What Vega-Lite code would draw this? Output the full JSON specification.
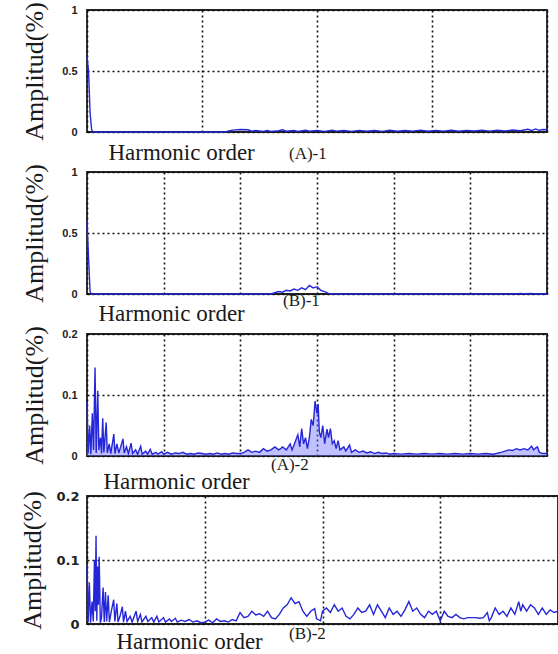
{
  "$schema": "https://vega.github.io/schema/vega-lite/v6.json",
  "padding": {"left": 19, "top": 0, "right": 0, "bottom": 0},
  "background": "white",
  "spacing": 40,
  "bounds": "flush",
  "config": {
    "font": "Liberation Serif, Times New Roman, DejaVu Serif, serif",
    "view": {"stroke": "#222222", "strokeWidth": 1.8},
    "axis": {"titleFont": "Liberation Serif, Times New Roman, DejaVu Serif, serif", "titleFontWeight": "normal"},
    "axisY": {"ticks": false, "domain": false, "labelFont": "Liberation Sans", "labelFontWeight": "bold", "labelFontSize": 11, "labelColor": "#222222", "labelPadding": 10, "titleFontSize": 26, "titleColor": "#1a1a1a", "titlePadding": 14, "gridColor": "#111111", "gridDash": [2, 3], "gridWidth": 1.6, "gridOpacity": 1},
    "axisX": {"ticks": false, "domain": false, "labels": false, "titleFontSize": 23, "titleColor": "#1a1a1a", "titleAnchor": "start", "gridColor": "#111111", "gridDash": [2, 3], "gridWidth": 1.6, "gridOpacity": 1},
    "title": {"font": "Liberation Serif, Times New Roman, DejaVu Serif, serif", "fontSize": 17, "fontWeight": "normal", "color": "#1a1a1a", "orient": "bottom", "anchor": "start", "frame": "group"}
  },
  "datasets": {
    "a1": [
      {"x": 0, "y": 0.62}, {"x": 0.4, "y": 0.5}, {"x": 0.8, "y": 0.16}, {"x": 1.2, "y": 0.02}, {"x": 1.6, "y": 0},
      {"x": 36, "y": 0}, {"x": 37, "y": 0.008}, {"x": 38, "y": 0.015}, {"x": 40, "y": 0.02}, {"x": 42, "y": 0.018}, {"x": 43, "y": 0.006},
      {"x": 44, "y": 0.012}, {"x": 46, "y": 0.004}, {"x": 47, "y": 0.012}, {"x": 48, "y": 0.005}, {"x": 50, "y": 0.01}, {"x": 51, "y": 0.018},
      {"x": 52, "y": 0.006}, {"x": 54, "y": 0.012}, {"x": 55, "y": 0.004}, {"x": 57, "y": 0.014}, {"x": 58, "y": 0.006}, {"x": 60, "y": 0.012},
      {"x": 62, "y": 0.005}, {"x": 64, "y": 0.015}, {"x": 65, "y": 0.007}, {"x": 67, "y": 0.012}, {"x": 69, "y": 0.005}, {"x": 71, "y": 0.013},
      {"x": 73, "y": 0.006}, {"x": 75, "y": 0.012}, {"x": 77, "y": 0.005}, {"x": 79, "y": 0.014}, {"x": 81, "y": 0.006}, {"x": 83, "y": 0.012},
      {"x": 85, "y": 0.007}, {"x": 87, "y": 0.015}, {"x": 89, "y": 0.006}, {"x": 91, "y": 0.013}, {"x": 93, "y": 0.007}, {"x": 95, "y": 0.014},
      {"x": 97, "y": 0.006}, {"x": 99, "y": 0.013}, {"x": 101, "y": 0.008}, {"x": 103, "y": 0.015}, {"x": 105, "y": 0.007}, {"x": 107, "y": 0.014},
      {"x": 109, "y": 0.008}, {"x": 111, "y": 0.016}, {"x": 113, "y": 0.01}, {"x": 115, "y": 0.022}, {"x": 116, "y": 0.012}, {"x": 117, "y": 0.025},
      {"x": 118, "y": 0.014}, {"x": 119, "y": 0.02}, {"x": 120, "y": 0.018}
    ],
    "b1": [
      {"x": 0, "y": 0.6}, {"x": 0.4, "y": 0.3}, {"x": 0.8, "y": 0.02}, {"x": 1.2, "y": 0},
      {"x": 48, "y": 0}, {"x": 49, "y": 0.01}, {"x": 50, "y": 0.02}, {"x": 51, "y": 0.015}, {"x": 52, "y": 0.03}, {"x": 53, "y": 0.025},
      {"x": 54, "y": 0.04}, {"x": 55, "y": 0.03}, {"x": 56, "y": 0.05}, {"x": 57, "y": 0.035}, {"x": 58, "y": 0.07}, {"x": 59, "y": 0.05},
      {"x": 60, "y": 0.06}, {"x": 61, "y": 0.03}, {"x": 62, "y": 0.02}, {"x": 63, "y": 0.005}, {"x": 64, "y": 0},
      {"x": 112, "y": 0}, {"x": 113, "y": 0.004}, {"x": 114, "y": 0.002}, {"x": 116, "y": 0.004}, {"x": 117, "y": 0}, {"x": 120, "y": 0}
    ],
    "a2": [
      {"x": 0, "y": 0.088}, {"x": 0.3, "y": 0.004}, {"x": 0.7, "y": 0.05}, {"x": 1.0, "y": 0.003}, {"x": 1.4, "y": 0.07}, {"x": 1.7, "y": 0.01},
      {"x": 2.1, "y": 0.145}, {"x": 2.4, "y": 0.005}, {"x": 2.8, "y": 0.107}, {"x": 3.1, "y": 0.01}, {"x": 3.5, "y": 0.03}, {"x": 3.8, "y": 0.004},
      {"x": 4.1, "y": 0.062}, {"x": 4.4, "y": 0.006}, {"x": 4.7, "y": 0.03}, {"x": 5.0, "y": 0.055}, {"x": 5.3, "y": 0.005}, {"x": 5.8, "y": 0.02},
      {"x": 6.2, "y": 0.004}, {"x": 7.0, "y": 0.036}, {"x": 7.3, "y": 0.004}, {"x": 7.8, "y": 0.02}, {"x": 8.3, "y": 0.005}, {"x": 9.4, "y": 0.028},
      {"x": 9.7, "y": 0.005}, {"x": 10.3, "y": 0.015}, {"x": 10.8, "y": 0.004}, {"x": 11.5, "y": 0.021}, {"x": 11.9, "y": 0.004}, {"x": 12.7, "y": 0.01},
      {"x": 13.2, "y": 0.003}, {"x": 14, "y": 0.016}, {"x": 14.4, "y": 0.003}, {"x": 15.3, "y": 0.008}, {"x": 15.8, "y": 0.003}, {"x": 16.5, "y": 0.011},
      {"x": 17, "y": 0.003}, {"x": 18, "y": 0.006}, {"x": 18.5, "y": 0.003}, {"x": 19.5, "y": 0.007}, {"x": 20, "y": 0.003}, {"x": 21, "y": 0.006},
      {"x": 22, "y": 0.003}, {"x": 23, "y": 0.005}, {"x": 24, "y": 0.004}, {"x": 25, "y": 0.006}, {"x": 26, "y": 0.003}, {"x": 27, "y": 0.004},
      {"x": 28, "y": 0.003}, {"x": 29, "y": 0.005}, {"x": 30, "y": 0.004}, {"x": 31, "y": 0.003}, {"x": 32, "y": 0.004}, {"x": 33, "y": 0.003},
      {"x": 34, "y": 0.005}, {"x": 35, "y": 0.003}, {"x": 36, "y": 0.004}, {"x": 37, "y": 0.003}, {"x": 38, "y": 0.005}, {"x": 39, "y": 0.004},
      {"x": 40, "y": 0.004}, {"x": 41, "y": 0.006}, {"x": 42, "y": 0.01}, {"x": 43, "y": 0.006}, {"x": 44, "y": 0.008}, {"x": 45, "y": 0.006},
      {"x": 46, "y": 0.012}, {"x": 47, "y": 0.008}, {"x": 48, "y": 0.01}, {"x": 49, "y": 0.015}, {"x": 50, "y": 0.01}, {"x": 50.5, "y": 0.012},
      {"x": 51, "y": 0.015}, {"x": 52, "y": 0.01}, {"x": 53, "y": 0.02}, {"x": 53.5, "y": 0.01}, {"x": 54, "y": 0.018}, {"x": 55, "y": 0.035},
      {"x": 55.5, "y": 0.015}, {"x": 56, "y": 0.045}, {"x": 56.5, "y": 0.02}, {"x": 57, "y": 0.03}, {"x": 57.5, "y": 0.012}, {"x": 58, "y": 0.03},
      {"x": 58.5, "y": 0.06}, {"x": 59, "y": 0.05}, {"x": 59.5, "y": 0.09}, {"x": 60, "y": 0.07}, {"x": 60.3, "y": 0.085}, {"x": 60.6, "y": 0.04},
      {"x": 61, "y": 0.03}, {"x": 61.5, "y": 0.05}, {"x": 62, "y": 0.02}, {"x": 62.6, "y": 0.044}, {"x": 63, "y": 0.03}, {"x": 63.5, "y": 0.045},
      {"x": 64, "y": 0.02}, {"x": 64.5, "y": 0.025}, {"x": 65, "y": 0.012}, {"x": 65.5, "y": 0.025}, {"x": 66, "y": 0.01}, {"x": 67, "y": 0.015},
      {"x": 67.5, "y": 0.008}, {"x": 68.5, "y": 0.018}, {"x": 69, "y": 0.006}, {"x": 70, "y": 0.01}, {"x": 71, "y": 0.006}, {"x": 72, "y": 0.008},
      {"x": 73, "y": 0.005}, {"x": 74, "y": 0.007}, {"x": 75, "y": 0.004}, {"x": 76, "y": 0.006}, {"x": 77, "y": 0.004}, {"x": 78, "y": 0.005},
      {"x": 79, "y": 0.003}, {"x": 80, "y": 0.004}, {"x": 82, "y": 0.003}, {"x": 84, "y": 0.004}, {"x": 86, "y": 0.003}, {"x": 88, "y": 0.004},
      {"x": 90, "y": 0.003}, {"x": 92, "y": 0.004}, {"x": 94, "y": 0.003}, {"x": 96, "y": 0.004}, {"x": 98, "y": 0.003}, {"x": 100, "y": 0.004},
      {"x": 102, "y": 0.003}, {"x": 104, "y": 0.004}, {"x": 106, "y": 0.003}, {"x": 108, "y": 0.006}, {"x": 110, "y": 0.01}, {"x": 111, "y": 0.009},
      {"x": 112, "y": 0.012}, {"x": 113, "y": 0.01}, {"x": 114, "y": 0.012}, {"x": 115, "y": 0.01}, {"x": 116, "y": 0.016}, {"x": 116.5, "y": 0.01},
      {"x": 117, "y": 0.013}, {"x": 117.5, "y": 0.015}, {"x": 118, "y": 0.006}, {"x": 119, "y": 0.004}, {"x": 120, "y": 0.004}
    ],
    "b2": [
      {"x": 0, "y": 0.092}, {"x": 0.3, "y": 0.003}, {"x": 0.6, "y": 0.065}, {"x": 0.9, "y": 0.002}, {"x": 1.3, "y": 0.035}, {"x": 1.6, "y": 0.004},
      {"x": 1.9, "y": 0.1}, {"x": 2.1, "y": 0.02}, {"x": 2.3, "y": 0.138}, {"x": 2.5, "y": 0.005}, {"x": 2.7, "y": 0.09}, {"x": 2.9, "y": 0.03},
      {"x": 3.1, "y": 0.105}, {"x": 3.4, "y": 0.002}, {"x": 3.7, "y": 0.01}, {"x": 4.1, "y": 0.057}, {"x": 4.4, "y": 0.003}, {"x": 4.7, "y": 0.05},
      {"x": 5.0, "y": 0.004}, {"x": 5.4, "y": 0.045}, {"x": 5.7, "y": 0.003}, {"x": 6.2, "y": 0.02}, {"x": 6.8, "y": 0.038}, {"x": 7.1, "y": 0.004},
      {"x": 7.6, "y": 0.032}, {"x": 7.9, "y": 0.003}, {"x": 8.4, "y": 0.012}, {"x": 9.0, "y": 0.027}, {"x": 9.3, "y": 0.003}, {"x": 9.8, "y": 0.02},
      {"x": 10.2, "y": 0.004}, {"x": 11, "y": 0.012}, {"x": 11.5, "y": 0.003}, {"x": 12.5, "y": 0.02}, {"x": 12.9, "y": 0.004}, {"x": 13.6, "y": 0.015},
      {"x": 14, "y": 0.003}, {"x": 15, "y": 0.012}, {"x": 15.5, "y": 0.004}, {"x": 16.5, "y": 0.01}, {"x": 17, "y": 0.003}, {"x": 17.8, "y": 0.012},
      {"x": 18.3, "y": 0.003}, {"x": 19.5, "y": 0.01}, {"x": 20, "y": 0.003}, {"x": 21, "y": 0.008}, {"x": 21.5, "y": 0.004}, {"x": 22.5, "y": 0.009},
      {"x": 23, "y": 0.003}, {"x": 24, "y": 0.006}, {"x": 25, "y": 0.004}, {"x": 26, "y": 0.007}, {"x": 27, "y": 0.003}, {"x": 28, "y": 0.005},
      {"x": 29, "y": 0.002}, {"x": 30, "y": 0.003}, {"x": 31, "y": 0.006}, {"x": 32, "y": 0.002}, {"x": 33, "y": 0.008}, {"x": 34, "y": 0.004},
      {"x": 35, "y": 0.005}, {"x": 36, "y": 0.003}, {"x": 37, "y": 0.007}, {"x": 38, "y": 0.005}, {"x": 39, "y": 0.018}, {"x": 40, "y": 0.01},
      {"x": 41, "y": 0.012}, {"x": 42, "y": 0.02}, {"x": 43, "y": 0.014}, {"x": 44, "y": 0.016}, {"x": 45, "y": 0.012}, {"x": 46, "y": 0.02},
      {"x": 47, "y": 0.01}, {"x": 48, "y": 0.008}, {"x": 49, "y": 0.015}, {"x": 50, "y": 0.025}, {"x": 51, "y": 0.03}, {"x": 52, "y": 0.041},
      {"x": 53, "y": 0.032}, {"x": 54, "y": 0.035}, {"x": 55, "y": 0.02}, {"x": 56, "y": 0.012}, {"x": 57, "y": 0.02}, {"x": 58, "y": 0.024},
      {"x": 58.5, "y": 0.008}, {"x": 59.5, "y": 0.005}, {"x": 60, "y": 0.02}, {"x": 61, "y": 0.025}, {"x": 62, "y": 0.018}, {"x": 63, "y": 0.03},
      {"x": 64, "y": 0.02}, {"x": 65, "y": 0.025}, {"x": 66, "y": 0.012}, {"x": 67, "y": 0.008}, {"x": 68, "y": 0.015}, {"x": 69, "y": 0.025},
      {"x": 70, "y": 0.018}, {"x": 71, "y": 0.02}, {"x": 72, "y": 0.03}, {"x": 73, "y": 0.015}, {"x": 74, "y": 0.03}, {"x": 75, "y": 0.02},
      {"x": 76, "y": 0.01}, {"x": 77, "y": 0.025}, {"x": 78, "y": 0.015}, {"x": 79, "y": 0.02}, {"x": 80, "y": 0.012}, {"x": 81, "y": 0.022},
      {"x": 82, "y": 0.035}, {"x": 83, "y": 0.02}, {"x": 84, "y": 0.025}, {"x": 85, "y": 0.015}, {"x": 86, "y": 0.01}, {"x": 87, "y": 0.02},
      {"x": 88, "y": 0.015}, {"x": 89, "y": 0.02}, {"x": 90, "y": 0.005}, {"x": 91, "y": 0.02}, {"x": 92, "y": 0.012}, {"x": 93, "y": 0.01},
      {"x": 94, "y": 0.015}, {"x": 95, "y": 0.01}, {"x": 96, "y": 0.008}, {"x": 97, "y": 0.01}, {"x": 98, "y": 0.01}, {"x": 99, "y": 0.01},
      {"x": 100, "y": 0.009}, {"x": 101, "y": 0.01}, {"x": 102, "y": 0.018}, {"x": 102.5, "y": 0.005}, {"x": 103, "y": 0.01}, {"x": 104, "y": 0.025},
      {"x": 105, "y": 0.015}, {"x": 106, "y": 0.02}, {"x": 107, "y": 0.012}, {"x": 108, "y": 0.025}, {"x": 109, "y": 0.015}, {"x": 110, "y": 0.035},
      {"x": 110.5, "y": 0.02}, {"x": 111, "y": 0.03}, {"x": 112, "y": 0.02}, {"x": 113, "y": 0.03}, {"x": 114, "y": 0.025}, {"x": 115, "y": 0.015},
      {"x": 116, "y": 0.025}, {"x": 117, "y": 0.015}, {"x": 118, "y": 0.022}, {"x": 119, "y": 0.018}, {"x": 120, "y": 0.02}
    ]
  },
  "vconcat": [
    {
      "width": 460, "height": 122,
      "data": {"name": "a1"},
      "title": {"text": "(A)-1", "dx": 202, "dy": -22},
      "mark": {"type": "line", "color": "#2626d9", "strokeWidth": 1.4},
      "encoding": {
        "x": {"field": "x", "type": "quantitative", "scale": {"domain": [0, 120], "nice": false}, "axis": {"title": "Harmonic order", "titleX": 21, "titlePadding": 9, "values": [0, 30, 60, 90, 120]}},
        "y": {"field": "y", "type": "quantitative", "scale": {"domain": [0, 1], "nice": false}, "axis": {"title": "Amplitud(%)", "values": [0, 0.5, 1], "format": "~g"}}
      }
    },
    {
      "width": 460, "height": 122,
      "data": {"name": "b1"},
      "title": {"text": "(B)-1", "dx": 196, "dy": -36},
      "mark": {"type": "line", "color": "#2626d9", "strokeWidth": 1.4},
      "encoding": {
        "x": {"field": "x", "type": "quantitative", "scale": {"domain": [0, 120], "nice": false}, "axis": {"title": "Harmonic order", "titleX": 11, "titlePadding": 8, "values": [0, 20, 40, 60, 80, 100, 120]}},
        "y": {"field": "y", "type": "quantitative", "scale": {"domain": [0, 1], "nice": false}, "axis": {"title": "Amplitud(%)", "values": [0, 0.5, 1], "format": "~g"}}
      }
    },
    {
      "width": 460, "height": 122,
      "data": {"name": "a2"},
      "title": {"text": "(A)-2", "dx": 184, "dy": -40},
      "layer": [
        {"mark": {"type": "area", "color": "#7474ff", "opacity": 0.45}, "encoding": {"x": {"field": "x", "type": "quantitative"}, "y": {"field": "y", "type": "quantitative"}}},
        {"mark": {"type": "line", "color": "#2626d9", "strokeWidth": 1.4}, "encoding": {"x": {"field": "x", "type": "quantitative"}, "y": {"field": "y", "type": "quantitative"}}}
      ],
      "encoding": {
        "x": {"field": "x", "type": "quantitative", "scale": {"domain": [0, 120], "nice": false}, "axis": {"title": "Harmonic order", "titleX": 16, "titlePadding": 14, "values": [0, 20, 40, 60, 80, 100, 120]}},
        "y": {"field": "y", "type": "quantitative", "scale": {"domain": [0, 0.2], "nice": false}, "axis": {"title": "Amplitud(%)", "values": [0, 0.1, 0.2], "format": "~g"}}
      }
    },
    {
      "width": 471, "height": 128,
      "data": {"name": "b2"},
      "title": {"text": "(B)-2", "dx": 202, "dy": -31},
      "mark": {"type": "line", "color": "#2626d9", "strokeWidth": 1.4},
      "encoding": {
        "x": {"field": "x", "type": "quantitative", "scale": {"domain": [0, 120], "nice": false}, "axis": {"title": "Harmonic order", "titleX": 29, "titlePadding": 6, "values": [0, 30, 60, 90, 120]}},
        "y": {"field": "y", "type": "quantitative", "scale": {"domain": [0, 0.2], "nice": false}, "axis": {"title": "Amplitud(%)", "values": [0, 0.1, 0.2], "format": "~g", "labelFontSize": 13, "labelFont": "DejaVu Sans", "labelPadding": 8, "titlePadding": 10}}
      }
    }
  ]
}
